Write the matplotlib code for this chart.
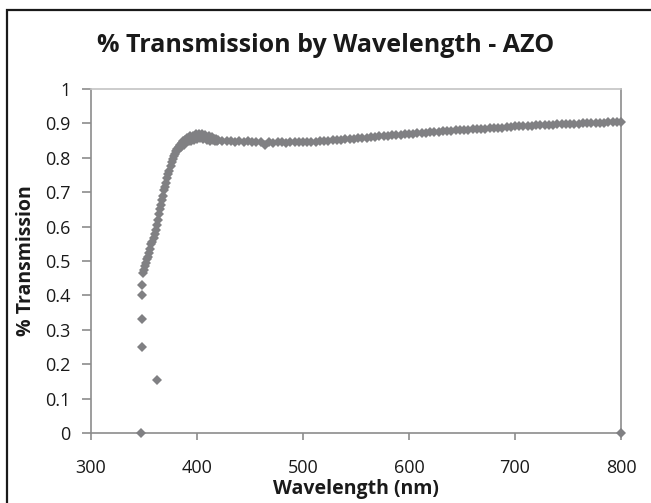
import matplotlib
matplotlib.use("Agg")
from matplotlib import pyplot as plt
from matplotlib.patches import Rectangle
import numpy as np

plt.rcParams['font.family'] = ['Open Sans', 'DejaVu Sans']

# absorption edge, sampled every 1 nm from 349 to 420 nm
EDGE_WL = np.arange(349, 421)
EDGE_T = [0.465, 0.475, 0.485, 0.495, 0.505, 0.512, 0.522, 0.535, 0.548, 0.556,
          0.566, 0.578, 0.590, 0.604, 0.620, 0.636, 0.652, 0.664, 0.676, 0.690,
          0.705, 0.716, 0.728, 0.742, 0.752, 0.762, 0.776, 0.788, 0.796, 0.806,
          0.812, 0.820, 0.826, 0.822, 0.832, 0.838, 0.830, 0.842, 0.848, 0.838,
          0.852, 0.846, 0.858, 0.850, 0.862, 0.848, 0.856, 0.864, 0.852, 0.860,
          0.868, 0.856, 0.864, 0.870, 0.858, 0.862, 0.868, 0.854, 0.860, 0.866,
          0.852, 0.858, 0.862, 0.850, 0.856, 0.860, 0.852, 0.856, 0.850, 0.854,
          0.850, 0.852]

# plateau, sampled every 4 nm from 424 to 800 nm
FLAT_WL = np.arange(424, 801, 4)
FLAT_T = [0.850, 0.848, 0.849, 0.847, 0.848, 0.846, 0.848, 0.846, 0.847, 0.845,
          0.838, 0.846, 0.844, 0.845, 0.846, 0.844, 0.845, 0.846, 0.845, 0.846,
          0.846, 0.847, 0.847, 0.848, 0.849, 0.850, 0.851, 0.852, 0.853, 0.854,
          0.855, 0.856, 0.857, 0.858, 0.859, 0.860, 0.861, 0.862, 0.863, 0.864,
          0.865, 0.866, 0.867, 0.868, 0.869, 0.870, 0.871, 0.872, 0.873, 0.874,
          0.875, 0.876, 0.877, 0.878, 0.879, 0.880, 0.880, 0.881, 0.882, 0.883,
          0.884, 0.885, 0.885, 0.886, 0.887, 0.888, 0.888, 0.889, 0.890, 0.891,
          0.891, 0.892, 0.893, 0.893, 0.894, 0.895, 0.895, 0.896, 0.896, 0.897,
          0.897, 0.898, 0.898, 0.899, 0.899, 0.900, 0.900, 0.901, 0.901, 0.902,
          0.902, 0.903, 0.903, 0.904, 0.905]

# stray readings at the start and end of the scan
STRAY_WL = [347.5, 348, 348, 348, 348.2, 362, 800]
STRAY_T = [0.0, 0.25, 0.33, 0.40, 0.43, 0.155, 0.0]

X_TICKS = [300, 400, 500, 600, 700, 800]
Y_TICKS = [0, 0.1, 0.2, 0.3, 0.4, 0.5, 0.6, 0.7, 0.8, 0.9, 1]
Y_TICK_LABELS = ['0', '0.1', '0.2', '0.3', '0.4', '0.5', '0.6', '0.7', '0.8', '0.9', '1']

GRAY = '#808083'
AXIS_GRAY = '#8c8c8c'
TEXT = '#1a1a1a'

fig = plt.figure(figsize=(6.51, 5.03), dpi=100)
ax = fig.add_axes([91 / 651, 1 - 433 / 503, 530 / 651, 344 / 503])

# all the measured points as small diamonds
for wl, t in [(EDGE_WL, EDGE_T), (FLAT_WL, FLAT_T), (STRAY_WL, STRAY_T)]:
    ax.plot(wl, t, linestyle='None', marker='D', markersize=5.2,
            color=GRAY, markeredgewidth=0, clip_on=False, zorder=3)

ax.set_xlim(300, 800)
ax.set_ylim(0, 1)
ax.set_xticks(X_TICKS)
ax.set_yticks(Y_TICKS)
ax.set_yticklabels(Y_TICK_LABELS)

for side in ['left', 'bottom', 'right']:
    ax.spines[side].set_color(AXIS_GRAY)
    ax.spines[side].set_linewidth(1.2)
ax.spines['top'].set_color('#c4c4c4')
ax.spines['top'].set_linewidth(1.2)

ax.tick_params(axis='y', direction='out', length=6.5, width=1.2, color=AXIS_GRAY,
               pad=8, labelsize=13, labelcolor=TEXT)
ax.tick_params(axis='x', direction='out', length=5, width=1.2, color=AXIS_GRAY,
               pad=14, labelsize=13, labelcolor=TEXT)

ax.set_xlabel('Wavelength (nm)', fontsize=14, fontweight='bold', color=TEXT)
ax.xaxis.set_label_coords(0.5, (433 - 479) / 344)
ax.set_ylabel('% Transmission', fontsize=14, fontweight='bold', color=TEXT)
ax.yaxis.set_label_coords((36 - 91) / 530, 0.5)

fig.text(326 / 651, 1 - 45 / 503, '% Transmission by Wavelength - AZO',
         ha='center', va='center', fontsize=18, fontweight='bold', color=TEXT)

# outer frame, running off the right and bottom edges
fig.patches.append(Rectangle((7 / 651, -0.1), 1.0, 1 - 10 / 503 + 0.1,
                             transform=fig.transFigure, fill=False,
                             edgecolor=TEXT, linewidth=1.6))

fig.savefig('out.png', dpi=100)
